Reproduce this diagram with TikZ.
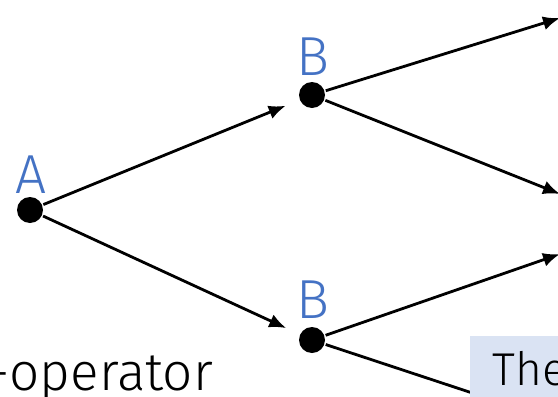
\documentclass[tikz,border=0pt]{standalone}
\usepackage{fontspec}
\setmainfont{Fira Sans Light}
\usetikzlibrary{arrows.meta}
\definecolor{lblblue}{HTML}{4472C4}
\definecolor{noteblue}{HTML}{DAE3F3}
\tikzset{
  dot/.style={circle, fill=black, inner sep=0pt, minimum size=26pt},
  lbl/.style={text=lblblue, font=\fontsize{55}{60}\selectfont, anchor=base, inner sep=0pt},
  note/.style={anchor=base west, inner sep=0pt, font=\fontsize{46}{50}\selectfont},
}

\begin{document}
\begin{tikzpicture}[x=1pt, y=-1pt, >={Latex[length=17pt,width=14pt]}, line width=2.8pt]
	%%%	Frame
	\useasboundingbox (0,0) rectangle (558,397);
	\clip (0,0) rectangle (558,397);
	%%%	Tree nodes
	\node[dot] (A) at (30,210) {};
	\node[dot] (B1) at (312,95) {};
	\node[dot] (B2) at (312,340) {};
	\node[lbl] (labA) at (31,193) {A};
	\node[lbl] (labB1) at (313,75) {B};
	\node[lbl] (labB2) at (313,318) {B};
	%%%	Next level (off to the right)
	\coordinate (C1) at (560,18);
	\coordinate (C2) at (560,194);
	\coordinate (C3) at (560,254);
	\coordinate (C4) at (560,422);
	%%%	Edges
	\draw[->, shorten >=14pt] (A) -- (B1);
	\draw[->, shorten >=14pt] (A) -- (B2);
	\draw[->] (B1) -- (C1);
	\draw[->] (B1) -- (C2);
	\draw[->] (B2) -- (C3);
	\draw (B2) -- (C4);
	%%%	Text
	\node[anchor=base west, inner sep=0pt, font=\fontsize{53}{56}\selectfont] (op) at (-13,390) {-operator};
	\fill[noteblue] (470,336) rectangle (600,420);
	\node[note] (hint) at (491,385) {The};
\end{tikzpicture}
\end{document}
